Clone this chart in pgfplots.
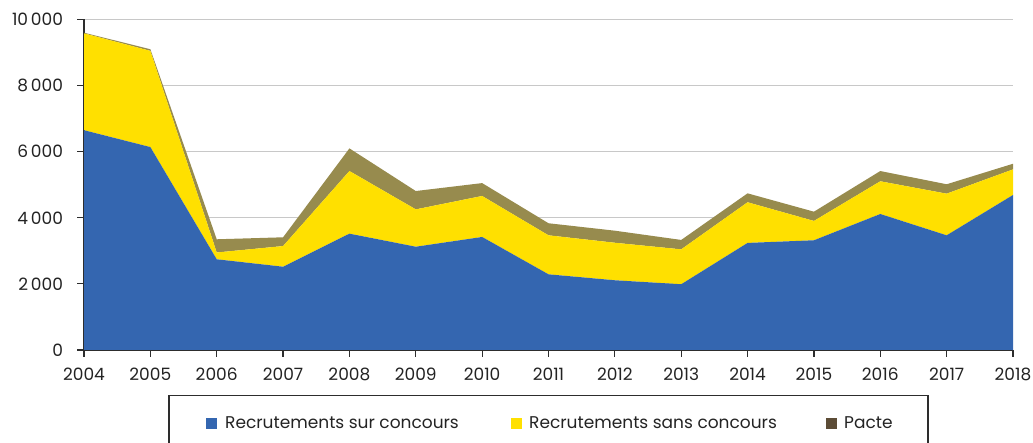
\documentclass[border=0pt]{standalone}
\usepackage{pgfplots}
\pgfplotsset{compat=1.18}
\usepackage{pgfplotstable}
\usepackage{fontspec}
\setmainfont{Poppins}
\definecolor{cblue}{RGB}{52,102,176}
\definecolor{cyellow}{RGB}{255,224,0}
\definecolor{colive}{RGB}{151,139,78}
\definecolor{cpacte}{RGB}{92,76,54}
\definecolor{axisc}{RGB}{45,45,45}
\definecolor{gridc}{RGB}{200,200,200}
\definecolor{textc}{RGB}{35,35,35}
\pgfplotsset{
  layers/mylayers/.define layer set={axis background,axis grid,main,axis ticks,axis lines,axis tick labels,axis descriptions,axis foreground}{},
}
\pgfplotstableread{
year sur sans pacte
2004 6650 2930 20
2005 6140 2910 50
2006 2745 205 400
2007 2520 625 265
2008 3520 1895 685
2009 3125 1130 555
2010 3420 1240 390
2011 2290 1180 365
2012 2110 1135 365
2013 1990 1055 285
2014 3240 1230 270
2015 3320 585 280
2016 4115 990 310
2017 3470 1260 285
2018 4690 775 170
}\datatable
\begin{document}
\fontsize{17.5}{21}\selectfont
\begin{tikzpicture}
\begin{axis}[
  set layers=mylayers,
  at={(84pt,-350pt)}, anchor=south west, scale only axis,
  width=929pt, height=330.5pt,
  xmin=2004, xmax=2018, ymin=0, ymax=10000,
  xtick={2004,2005,...,2018}, ytick={0,2000,...,10000},
  scaled y ticks=false,
  axis x line*=bottom, axis y line*=left,
  axis line style={line width=1.2pt, color=axisc, -},
  major tick style={line width=1.2pt, color=axisc},
  tick align=outside, major tick length=7pt,
  ymajorgrids, grid style={line width=1.2pt, color=gridc},
  stack plots=y,
  /pgf/number format/assume math mode=true,
  xticklabel style={/pgf/number format/1000 sep={}, yshift=-5pt},
  yticklabel style={/pgf/number format/1000 sep={\,}, xshift=-8pt},
  tick label style={font=\fontsize{17}{20}\selectfont, text=textc},
  legend style={at={(axis description cs:0.1313,-0.2224)}, anchor=west,
    draw=none, fill=none, inner sep=0pt, cells={anchor=west},
    nodes={inner sep=0pt, text=textc}, font=\fontsize{17}{20}\selectfont},
  legend columns=3,
]
\addplot[fill=cblue, draw=none,
  legend image code/.code={\fill[cblue] (0pt,-5.5pt) rectangle (11pt,5.5pt);}]
  table[x=year,y=sur]{\datatable} \closedcycle;
\addlegendentry{\makebox[294pt][l]{\hspace{8pt}Recrutements sur concours}}
\addplot[fill=cyellow, draw=none,
  legend image code/.code={\fill[cyellow] (0pt,-5.5pt) rectangle (11pt,5.5pt);}]
  table[x=year,y=sans]{\datatable} \closedcycle;
\addlegendentry{\makebox[304pt][l]{\hspace{7pt}Recrutements sans concours}}
\addplot[fill=colive, draw=none,
  legend image code/.code={\fill[cpacte] (0pt,-5.5pt) rectangle (11pt,5.5pt);}]
  table[x=year,y=pacte]{\datatable} \closedcycle;
\addlegendentry{\hspace{7pt}Pacte}
\end{axis}
\draw[line width=1.2pt, axisc] (169pt,-395.7pt) rectangle (928pt,-480pt);
\pgfresetboundingbox
\useasboundingbox (0,0) rectangle (1033pt,-443pt);
\end{tikzpicture}
\end{document}
